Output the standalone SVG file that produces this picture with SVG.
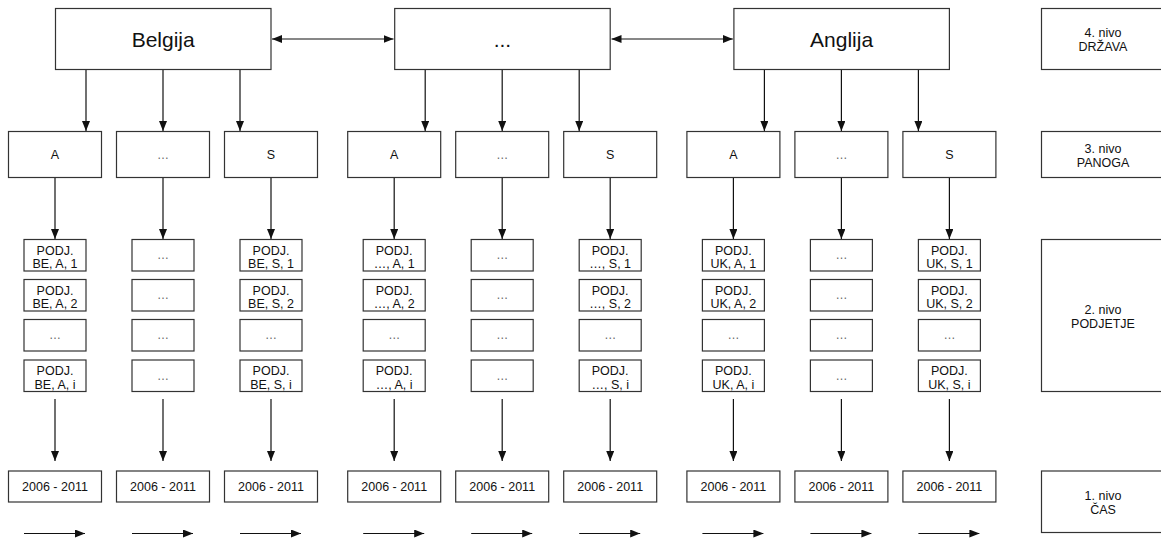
<svg xmlns="http://www.w3.org/2000/svg" width="1161" height="541" viewBox="0 0 1161 541">
<style>
rect{fill:#fff;stroke:#333;stroke-width:1.2}
text{font-family:"Liberation Sans",Arial,sans-serif;fill:#111;text-anchor:middle}
.big{font-size:21px}
.sm{font-size:12.5px}
.dots{font-size:12px;fill:#666}
.c line{stroke:#111;stroke-width:1.2;marker-end:url(#ah)}
.c line.d{marker-start:url(#ah)}
</style>
<defs>
<marker id="ah" viewBox="0 0 10 8" refX="10" refY="4" markerWidth="10" markerHeight="8" markerUnits="userSpaceOnUse" orient="auto-start-reverse">
<path d="M0,0 L10,4 L0,8 Z" fill="#111"/>
</marker>
</defs>

<g id="connectors" class="c">
<line class="d" x1="272" y1="39" x2="393.5" y2="39"/>
<line class="d" x1="611.5" y1="39" x2="732.8" y2="39"/>
<line x1="86" y1="70" x2="86" y2="131"/>
<line x1="163" y1="70" x2="163" y2="131"/>
<line x1="240" y1="70" x2="240" y2="131"/>
<line x1="425.2" y1="70" x2="425.2" y2="131"/>
<line x1="502.2" y1="70" x2="502.2" y2="131"/>
<line x1="579.2" y1="70" x2="579.2" y2="131"/>
<line x1="764.4" y1="70" x2="764.4" y2="131"/>
<line x1="841.4" y1="70" x2="841.4" y2="131"/>
<line x1="918.4" y1="70" x2="918.4" y2="131"/>
<line x1="55" y1="178" x2="55" y2="239"/>
<line x1="163" y1="178" x2="163" y2="239"/>
<line x1="271" y1="178" x2="271" y2="239"/>
<line x1="394.2" y1="178" x2="394.2" y2="239"/>
<line x1="502.2" y1="178" x2="502.2" y2="239"/>
<line x1="610.2" y1="178" x2="610.2" y2="239"/>
<line x1="733.4" y1="178" x2="733.4" y2="239"/>
<line x1="841.4" y1="178" x2="841.4" y2="239"/>
<line x1="949.4" y1="178" x2="949.4" y2="239"/>
<line x1="55" y1="399" x2="55" y2="461"/>
<line x1="163" y1="399" x2="163" y2="461"/>
<line x1="271" y1="399" x2="271" y2="461"/>
<line x1="394.2" y1="399" x2="394.2" y2="461"/>
<line x1="502.2" y1="399" x2="502.2" y2="461"/>
<line x1="610.2" y1="399" x2="610.2" y2="461"/>
<line x1="733.4" y1="399" x2="733.4" y2="461"/>
<line x1="841.4" y1="399" x2="841.4" y2="461"/>
<line x1="949.4" y1="399" x2="949.4" y2="461"/>
<line x1="24" y1="533.5" x2="85" y2="533.5"/>
<line x1="132" y1="533.5" x2="193" y2="533.5"/>
<line x1="240" y1="533.5" x2="301" y2="533.5"/>
<line x1="363.2" y1="533.5" x2="424.2" y2="533.5"/>
<line x1="471.2" y1="533.5" x2="532.2" y2="533.5"/>
<line x1="579.2" y1="533.5" x2="640.2" y2="533.5"/>
<line x1="702.4" y1="533.5" x2="763.4" y2="533.5"/>
<line x1="810.4" y1="533.5" x2="871.4" y2="533.5"/>
<line x1="918.4" y1="533.5" x2="979.4" y2="533.5"/>
</g>

<!-- Level 4 -->
<g id="belgija"><rect x="55.5" y="8.5" width="215.5" height="61"/><text class="big" x="163.2" y="46.5">Belgija</text></g>
<g id="drzava-mid"><rect x="394.7" y="8.5" width="215.5" height="61"/><text class="big" x="502.4" y="46.5">...</text></g>
<g id="anglija"><rect x="733.9" y="8.5" width="215.5" height="61"/><text class="big" x="841.6" y="46.5">Anglija</text></g>

<!-- Level 3 -->
<g id="be-a"><rect x="8.5" y="131.5" width="93" height="46"/><text class="sm" x="55" y="159">A</text></g>
<g id="be-mid"><rect x="116.5" y="131.5" width="93" height="46"/><text class="dots" x="163" y="159">…</text></g>
<g id="be-s"><rect x="224.5" y="131.5" width="93" height="46"/><text class="sm" x="271" y="159">S</text></g>
<g id="mid-a"><rect x="347.7" y="131.5" width="93" height="46"/><text class="sm" x="394.2" y="159">A</text></g>
<g id="mid-mid"><rect x="455.7" y="131.5" width="93" height="46"/><text class="dots" x="502.2" y="159">…</text></g>
<g id="mid-s"><rect x="563.7" y="131.5" width="93" height="46"/><text class="sm" x="610.2" y="159">S</text></g>
<g id="uk-a"><rect x="686.9" y="131.5" width="93" height="46"/><text class="sm" x="733.4" y="159">A</text></g>
<g id="uk-mid"><rect x="794.9" y="131.5" width="93" height="46"/><text class="dots" x="841.4" y="159">…</text></g>
<g id="uk-s"><rect x="902.9" y="131.5" width="93" height="46"/><text class="sm" x="949.4" y="159">S</text></g>

<!-- Level 2: column 1 -->
<g id="p-be-a-1"><rect x="24" y="239.5" width="62" height="31.5"/><text class="sm" x="55" y="254.5">PODJ.</text><text class="sm" x="55" y="268">BE, A, 1</text></g>
<g id="p-be-a-2"><rect x="24" y="279.5" width="62" height="31.5"/><text class="sm" x="55" y="294.5">PODJ.</text><text class="sm" x="55" y="308">BE, A, 2</text></g>
<g id="p-be-a-x"><rect x="24" y="319.5" width="62" height="31.5"/><text class="dots" x="55" y="339">…</text></g>
<g id="p-be-a-i"><rect x="24" y="360" width="62" height="31.5"/><text class="sm" x="55" y="375">PODJ.</text><text class="sm" x="55" y="388.5">BE, A, i</text></g>
<!-- column 2 -->
<g id="p-be-m-1"><rect x="132" y="239.5" width="62" height="31.5"/><text class="dots" x="163" y="259">…</text></g>
<g id="p-be-m-2"><rect x="132" y="279.5" width="62" height="31.5"/><text class="dots" x="163" y="299">…</text></g>
<g id="p-be-m-3"><rect x="132" y="319.5" width="62" height="31.5"/><text class="dots" x="163" y="339">…</text></g>
<g id="p-be-m-4"><rect x="132" y="360" width="62" height="31.5"/><text class="dots" x="163" y="379.5">…</text></g>
<!-- column 3 -->
<g id="p-be-s-1"><rect x="240" y="239.5" width="62" height="31.5"/><text class="sm" x="271" y="254.5">PODJ.</text><text class="sm" x="271" y="268">BE, S, 1</text></g>
<g id="p-be-s-2"><rect x="240" y="279.5" width="62" height="31.5"/><text class="sm" x="271" y="294.5">PODJ.</text><text class="sm" x="271" y="308">BE, S, 2</text></g>
<g id="p-be-s-x"><rect x="240" y="319.5" width="62" height="31.5"/><text class="dots" x="271" y="339">…</text></g>
<g id="p-be-s-i"><rect x="240" y="360" width="62" height="31.5"/><text class="sm" x="271" y="375">PODJ.</text><text class="sm" x="271" y="388.5">BE, S, i</text></g>
<!-- column 4 -->
<g id="p-mid-a-1"><rect x="363.2" y="239.5" width="62" height="31.5"/><text class="sm" x="394.2" y="254.5">PODJ.</text><text class="sm" x="394.2" y="268">…, A, 1</text></g>
<g id="p-mid-a-2"><rect x="363.2" y="279.5" width="62" height="31.5"/><text class="sm" x="394.2" y="294.5">PODJ.</text><text class="sm" x="394.2" y="308">…, A, 2</text></g>
<g id="p-mid-a-x"><rect x="363.2" y="319.5" width="62" height="31.5"/><text class="dots" x="394.2" y="339">…</text></g>
<g id="p-mid-a-i"><rect x="363.2" y="360" width="62" height="31.5"/><text class="sm" x="394.2" y="375">PODJ.</text><text class="sm" x="394.2" y="388.5">…, A, i</text></g>
<!-- column 5 -->
<g id="p-mid-m-1"><rect x="471.2" y="239.5" width="62" height="31.5"/><text class="dots" x="502.2" y="259">…</text></g>
<g id="p-mid-m-2"><rect x="471.2" y="279.5" width="62" height="31.5"/><text class="dots" x="502.2" y="299">…</text></g>
<g id="p-mid-m-3"><rect x="471.2" y="319.5" width="62" height="31.5"/><text class="dots" x="502.2" y="339">…</text></g>
<g id="p-mid-m-4"><rect x="471.2" y="360" width="62" height="31.5"/><text class="dots" x="502.2" y="379.5">…</text></g>
<!-- column 6 -->
<g id="p-mid-s-1"><rect x="579.2" y="239.5" width="62" height="31.5"/><text class="sm" x="610.2" y="254.5">PODJ.</text><text class="sm" x="610.2" y="268">…, S, 1</text></g>
<g id="p-mid-s-2"><rect x="579.2" y="279.5" width="62" height="31.5"/><text class="sm" x="610.2" y="294.5">PODJ.</text><text class="sm" x="610.2" y="308">…, S, 2</text></g>
<g id="p-mid-s-x"><rect x="579.2" y="319.5" width="62" height="31.5"/><text class="dots" x="610.2" y="339">…</text></g>
<g id="p-mid-s-i"><rect x="579.2" y="360" width="62" height="31.5"/><text class="sm" x="610.2" y="375">PODJ.</text><text class="sm" x="610.2" y="388.5">…, S, i</text></g>
<!-- column 7 -->
<g id="p-uk-a-1"><rect x="702.4" y="239.5" width="62" height="31.5"/><text class="sm" x="733.4" y="254.5">PODJ.</text><text class="sm" x="733.4" y="268">UK, A, 1</text></g>
<g id="p-uk-a-2"><rect x="702.4" y="279.5" width="62" height="31.5"/><text class="sm" x="733.4" y="294.5">PODJ.</text><text class="sm" x="733.4" y="308">UK, A, 2</text></g>
<g id="p-uk-a-x"><rect x="702.4" y="319.5" width="62" height="31.5"/><text class="dots" x="733.4" y="339">…</text></g>
<g id="p-uk-a-i"><rect x="702.4" y="360" width="62" height="31.5"/><text class="sm" x="733.4" y="375">PODJ.</text><text class="sm" x="733.4" y="388.5">UK, A, i</text></g>
<!-- column 8 -->
<g id="p-uk-m-1"><rect x="810.4" y="239.5" width="62" height="31.5"/><text class="dots" x="841.4" y="259">…</text></g>
<g id="p-uk-m-2"><rect x="810.4" y="279.5" width="62" height="31.5"/><text class="dots" x="841.4" y="299">…</text></g>
<g id="p-uk-m-3"><rect x="810.4" y="319.5" width="62" height="31.5"/><text class="dots" x="841.4" y="339">…</text></g>
<g id="p-uk-m-4"><rect x="810.4" y="360" width="62" height="31.5"/><text class="dots" x="841.4" y="379.5">…</text></g>
<!-- column 9 -->
<g id="p-uk-s-1"><rect x="918.4" y="239.5" width="62" height="31.5"/><text class="sm" x="949.4" y="254.5">PODJ.</text><text class="sm" x="949.4" y="268">UK, S, 1</text></g>
<g id="p-uk-s-2"><rect x="918.4" y="279.5" width="62" height="31.5"/><text class="sm" x="949.4" y="294.5">PODJ.</text><text class="sm" x="949.4" y="308">UK, S, 2</text></g>
<g id="p-uk-s-x"><rect x="918.4" y="319.5" width="62" height="31.5"/><text class="dots" x="949.4" y="339">…</text></g>
<g id="p-uk-s-i"><rect x="918.4" y="360" width="62" height="31.5"/><text class="sm" x="949.4" y="375">PODJ.</text><text class="sm" x="949.4" y="388.5">UK, S, i</text></g>

<!-- Level 1 -->
<g id="t1"><rect x="8.5" y="471" width="93" height="31"/><text class="sm" x="55" y="491">2006 - 2011</text></g>
<g id="t2"><rect x="116.5" y="471" width="93" height="31"/><text class="sm" x="163" y="491">2006 - 2011</text></g>
<g id="t3"><rect x="224.5" y="471" width="93" height="31"/><text class="sm" x="271" y="491">2006 - 2011</text></g>
<g id="t4"><rect x="347.7" y="471" width="93" height="31"/><text class="sm" x="394.2" y="491">2006 - 2011</text></g>
<g id="t5"><rect x="455.7" y="471" width="93" height="31"/><text class="sm" x="502.2" y="491">2006 - 2011</text></g>
<g id="t6"><rect x="563.7" y="471" width="93" height="31"/><text class="sm" x="610.2" y="491">2006 - 2011</text></g>
<g id="t7"><rect x="686.9" y="471" width="93" height="31"/><text class="sm" x="733.4" y="491">2006 - 2011</text></g>
<g id="t8"><rect x="794.9" y="471" width="93" height="31"/><text class="sm" x="841.4" y="491">2006 - 2011</text></g>
<g id="t9"><rect x="902.9" y="471" width="93" height="31"/><text class="sm" x="949.4" y="491">2006 - 2011</text></g>

<!-- Legend -->
<g id="nivo4"><rect x="1041.5" y="8.5" width="130" height="61"/><text class="sm" x="1103" y="36.5">4. nivo</text><text class="sm" x="1103" y="50.5">DRŽAVA</text></g>
<g id="nivo3"><rect x="1041.5" y="131.5" width="130" height="46"/><text class="sm" x="1103" y="153">3. nivo</text><text class="sm" x="1103" y="166.7">PANOGA</text></g>
<g id="nivo2"><rect x="1041.5" y="239.5" width="130" height="152"/><text class="sm" x="1103" y="314">2. nivo</text><text class="sm" x="1103" y="327.5">PODJETJE</text></g>
<g id="nivo1"><rect x="1041.5" y="471" width="130" height="61.5"/><text class="sm" x="1103" y="500">1. nivo</text><text class="sm" x="1103" y="514">ČAS</text></g>
</svg>
